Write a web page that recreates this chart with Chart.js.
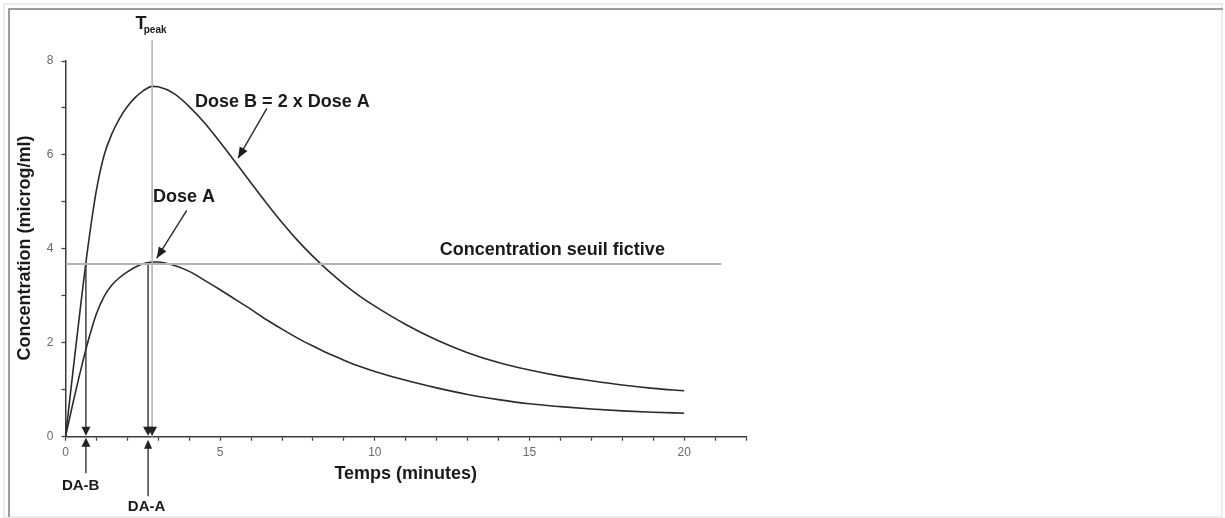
<!DOCTYPE html>
<html>
<head>
<meta charset="utf-8">
<script src="https://cdn.jsdelivr.net/npm/chart.js@4/dist/chart.umd.min.js"></script>
<style>
  html, body { margin: 0; padding: 0; background: #ffffff; }
  body { width: 1225px; height: 518px; position: relative; overflow: hidden; }
  .outer { position: absolute; left: 3px; top: 3px; width: 1220px; height: 515px; box-sizing: border-box; border: 2px solid #ececec; }
  .inner { position: absolute; left: 8px; top: 8px; width: 1215px; height: 509px; box-sizing: border-box; border-top: 2px solid #9c9c9c; border-left: 2px solid #9c9c9c; }
  #chart { position: absolute; left: 0; top: 0; }
</style>
</head>
<body>
<div class="outer"></div>
<div class="inner"></div>
<canvas id="chart" width="1225" height="518"></canvas>
<script>
// Time after administration (minutes)
const times = [0, 0.25, 0.5, 0.75, 1, 1.25, 1.5, 1.75, 2, 2.25, 2.5, 2.8, 3, 3.5, 4, 4.5, 5, 5.5, 6, 6.5,
               7, 7.5, 8, 8.5, 9, 9.5, 10, 11, 12, 13, 14, 15, 16, 17, 18, 19, 20];
// Plasma concentration (microg/ml) for dose A
const doseA = [0, 0.74, 1.44, 2.08, 2.62, 2.99, 3.23, 3.39, 3.51, 3.61, 3.68, 3.72, 3.72, 3.65, 3.52, 3.33, 3.13, 2.92, 2.71, 2.49,
               2.29, 2.10, 1.93, 1.77, 1.63, 1.5, 1.39, 1.2, 1.04, 0.9, 0.79, 0.7, 0.64, 0.59, 0.55, 0.52, 0.5];
// Plasma concentration (microg/ml) for dose B = 2 x dose A
const doseB = [0, 1.44, 2.85, 4.16, 5.25, 6.0, 6.45, 6.78, 7.03, 7.22, 7.36, 7.46, 7.45, 7.31, 7.03, 6.68, 6.27, 5.84, 5.40, 4.97,
               4.56, 4.18, 3.84, 3.53, 3.25, 3.0, 2.78, 2.39, 2.06, 1.79, 1.58, 1.42, 1.29, 1.19, 1.10, 1.03, 0.98];

// Reference levels
const threshold = 3.68;      // fictive threshold concentration
const thresholdEnd = 21.2;   // time where the threshold line stops
const tPeak = 2.8;           // time of peak concentration
const peakIndex = 11;        // index of tPeak in times
const tPeakTop = 8.44;       // top of the T_peak marker line
const daB = 0.66;            // onset of action, dose B
const daA = 2.67;            // onset of action, dose A
const daBLabelY = -0.78;     // lower end of the DA-B pointer
const daALabelY = -1.27;     // lower end of the DA-A pointer

// Axis ranges and labelled ticks
const xRange = [0, 22];
const yRange = [0, 8];
const xLabelled = [0, 5, 10, 15, 20];
const yLabelled = [0, 2, 4, 6, 8];

const pts = (ys) => times.map((t, i) => ({ x: t, y: ys[i] }));

const ink = '#2b2b2b';
const pale = '#b4b4b4';
const boldFont = (px) => 'bold ' + px + 'px "Liberation Sans", Arial, sans-serif';

function arrowHead(ctx, tx, ty, fx, fy, len, half) {
  const a = Math.atan2(ty - fy, tx - fx);
  ctx.beginPath();
  ctx.moveTo(tx, ty);
  ctx.lineTo(tx - len * Math.cos(a) + half * Math.sin(a), ty - len * Math.sin(a) - half * Math.cos(a));
  ctx.lineTo(tx - len * Math.cos(a) - half * Math.sin(a), ty - len * Math.sin(a) + half * Math.cos(a));
  ctx.closePath();
  ctx.fill();
}

// Text labels and arrow pointers placed in data coordinates
const annotate = {
  id: 'annotate',
  afterDatasetsDraw(chart) {
    const { ctx, scales: { x, y } } = chart;
    const X = (v) => x.getPixelForValue(v);
    const Y = (v) => y.getPixelForValue(v);
    ctx.save();
    ctx.fillStyle = '#1e1e1e';
    ctx.strokeStyle = ink;
    ctx.lineWidth = 1.4;

    // diagonal pointers to each curve
    const pointers = [
      [6.51, 6.99, 5.58, 5.93],
      [3.92, 4.82, 2.95, 3.8]
    ];
    pointers.forEach(([x0, y0, x1, y1]) => {
      ctx.beginPath();
      ctx.moveTo(X(x0), Y(y0));
      ctx.lineTo(X(x1), Y(y1));
      ctx.stroke();
      arrowHead(ctx, X(x1), Y(y1), X(x0), Y(y0), 11, 4.5);
    });

    // arrowheads of the onset markers, meeting on the time axis
    ctx.fillStyle = '#222';
    arrowHead(ctx, X(daB), Y(0) - 1, X(daB), Y(1), 9, 4.5);
    arrowHead(ctx, X(daB), Y(0) + 1, X(daB), Y(-1), 9, 4.5);
    arrowHead(ctx, X(daA), Y(0) - 1, X(daA), Y(1), 9, 5);
    arrowHead(ctx, X(tPeak), Y(0) - 1, X(tPeak), Y(1), 9, 5);
    arrowHead(ctx, X(daA), Y(0) + 3, X(daA), Y(-1), 9, 4);

    // texts
    ctx.fillStyle = '#1a1a1a';
    ctx.textBaseline = 'alphabetic';
    ctx.font = boldFont(18);
    ctx.textAlign = 'left';
    ctx.fillText('Dose B = 2 x Dose A', X(4.19), Y(7.01));
    ctx.fillText('Dose A', X(2.83), Y(5.0));
    ctx.textAlign = 'center';
    ctx.fillText('Concentration seuil fictive', X(15.74), Y(3.87));
    ctx.fillText('Temps (minutes)', X(11.0), Y(-0.9));

    ctx.font = boldFont(15);
    ctx.fillText('DA-B', X(0.49), Y(-1.13));
    ctx.fillText('DA-A', X(2.62), Y(-1.58));

    ctx.textAlign = 'left';
    ctx.font = boldFont(18);
    ctx.fillText('T', X(2.26), Y(8.69));
    ctx.font = boldFont(10);
    ctx.fillText('peak', X(2.53), Y(8.59));

    // vertical axis title
    ctx.save();
    ctx.translate(X(-1.31), Y(4.02));
    ctx.rotate(-Math.PI / 2);
    ctx.textAlign = 'center';
    ctx.textBaseline = 'middle';
    ctx.font = boldFont(18);
    ctx.fillText('Concentration (microg/ml)', 0, 0);
    ctx.restore();

    ctx.restore();
  }
};

const line = (data, color, width, extra) => Object.assign({
  data, borderColor: color, borderWidth: width, pointRadius: 0, fill: false, tension: 0
}, extra || {});

new Chart(document.getElementById('chart'), {
  type: 'line',
  data: {
    datasets: [
      line([{ x: 0, y: threshold }, { x: thresholdEnd, y: threshold }], pale, 2),
      line([{ x: tPeak, y: 0 }, { x: tPeak, y: tPeakTop }], pale, 1.6, { clip: false }),
      line([{ x: daB, y: threshold }, { x: daB, y: 0.18 }], '#333', 1.4, { clip: false }),
      line([{ x: daB, y: daBLabelY }, { x: daB, y: -0.18 }], '#333', 1.4, { clip: false }),
      line([{ x: daA, y: doseA[peakIndex] }, { x: daA, y: 0.18 }], '#333', 1.4, { clip: false }),
      line([{ x: daA, y: daALabelY }, { x: daA, y: -0.18 }], '#333', 1.4, { clip: false }),
      line(pts(doseB), ink, 1.6, { cubicInterpolationMode: 'monotone' }),
      line(pts(doseA), ink, 1.6, { cubicInterpolationMode: 'monotone' })
    ]
  },
  options: {
    responsive: false,
    animation: false,
    events: [],
    layout: { padding: { left: 0, top: 61, right: 479, bottom: 61.3 } },
    plugins: { legend: { display: false }, tooltip: { enabled: false } },
    scales: {
      x: {
        type: 'linear',
        min: xRange[0], max: xRange[1],
        afterFit: (s) => { s.height = 20; },
        border: { display: true, color: '#3a3a3a', width: 1.5 },
        grid: { drawOnChartArea: false, drawTicks: true, tickLength: 4, tickColor: '#3a3a3a', tickWidth: 1.2 },
        ticks: {
          stepSize: 1, autoSkip: false, maxRotation: 0, padding: 5,
          color: '#6a6a6a',
          font: { family: '"Liberation Sans", Arial, sans-serif', size: 12 },
          callback: (v) => xLabelled.includes(v) ? String(v) : ''
        }
      },
      y: {
        type: 'linear',
        min: yRange[0], max: yRange[1],
        afterFit: (s) => { s.width = 65.5; },
        border: { display: true, color: '#3a3a3a', width: 1.5 },
        grid: { drawOnChartArea: false, drawTicks: true, tickLength: 4, tickColor: '#3a3a3a', tickWidth: 1.2 },
        ticks: {
          stepSize: 1, autoSkip: false, padding: 8,
          color: '#6a6a6a',
          font: { family: '"Liberation Sans", Arial, sans-serif', size: 12 },
          callback: (v) => yLabelled.includes(v) ? String(v) : ''
        }
      }
    }
  },
  plugins: [annotate]
});
</script>
</body>
</html>
